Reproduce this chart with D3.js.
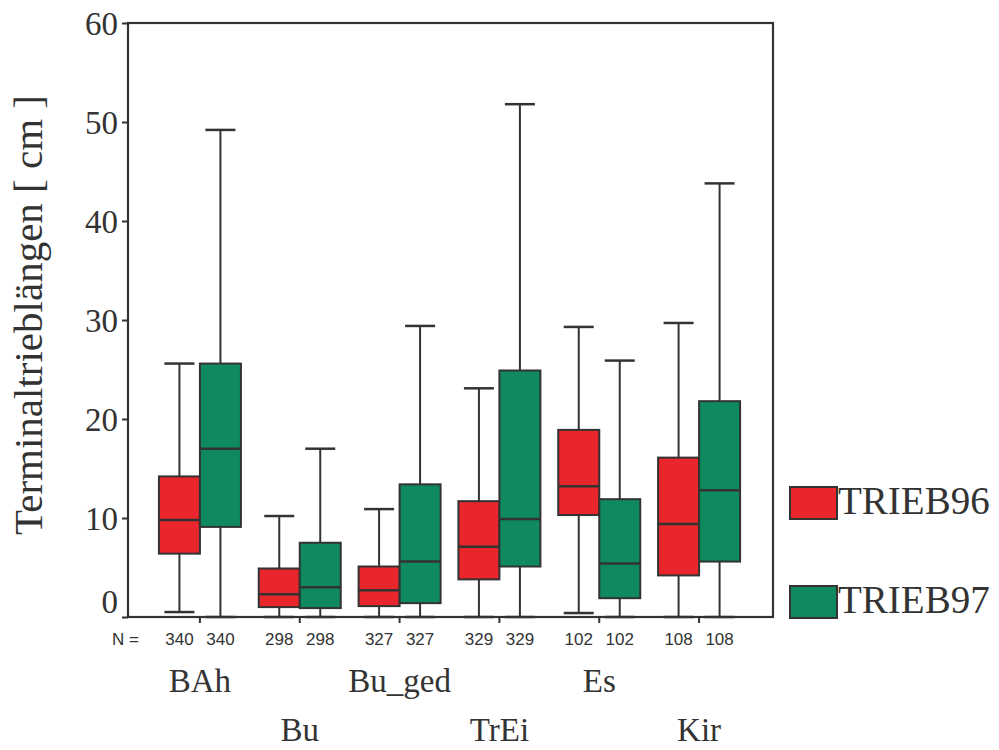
<!DOCTYPE html>
<html>
<head>
<meta charset="utf-8">
<script src="https://cdn.jsdelivr.net/npm/d3@7"></script>
<style>
  html, body { margin: 0; padding: 0; background: #ffffff; }
  svg { display: block; }
</style>
</head>
<body>
<svg id="chart" width="999" height="750"></svg>
<script>
// Terminal shoot lengths per tree species, 1996 vs 1997
const categories = ["BAh", "Bu", "Bu_ged", "TrEi", "Es", "Kir"];
const seriesNames = ["TRIEB96", "TRIEB97"];
const seriesColors = ["#e8262c", "#0e8a5e"];

const counts96 = [340, 298, 327, 329, 102, 108];
const counts97 = [340, 298, 327, 329, 102, 108];

// five-number summaries: lower whisker, Q1, median, Q3, upper whisker
const low96    = [0.5, 0, 0, 0, 0.4, 0];
const q1_96    = [6.4, 1.0, 1.1, 3.8, 10.3, 4.2];
const median96 = [9.8, 2.3, 2.7, 7.1, 13.2, 9.4];
const q3_96    = [14.2, 4.9, 5.1, 11.7, 18.9, 16.1];
const high96   = [25.6, 10.2, 10.9, 23.1, 29.3, 29.7];

const low97    = [0, 0, 0, 0, 0, 0];
const q1_97    = [9.1, 0.9, 1.4, 5.1, 1.9, 5.6];
const median97 = [17.0, 3.0, 5.6, 9.9, 5.4, 12.8];
const q3_97    = [25.6, 7.5, 13.4, 24.9, 11.9, 21.8];
const high97   = [49.2, 17.0, 29.4, 51.8, 25.9, 43.8];

const yTicks = [0, 10, 20, 30, 40, 50, 60];

const seriesData = [
  { name: seriesNames[0], color: seriesColors[0], n: counts96, low: low96, q1: q1_96, med: median96, q3: q3_96, high: high96 },
  { name: seriesNames[1], color: seriesColors[1], n: counts97, low: low97, q1: q1_97, med: median97, q3: q3_97, high: high97 }
];

const boxes = [];
categories.forEach((c, i) => {
  seriesData.forEach(s => {
    boxes.push({ cat: c, idx: i, series: s.name, color: s.color, n: s.n[i],
      low: s.low[i], q1: s.q1[i], med: s.med[i], q3: s.q3[i], high: s.high[i] });
  });
});

const svg = d3.select("#chart");
const serif = "'Liberation Serif', 'Times New Roman', serif";
const sans = "'Liberation Sans', Arial, sans-serif";
const ink = "#333333";

const plot = { left: 128, right: 773, top: 23, bottom: 617 };

const y = d3.scaleLinear().domain([0, 60]).range([plot.bottom, plot.top]);
const x = d3.scaleBand().domain(categories).range([150, 749]).padding(0);
const xs = d3.scaleBand().domain(seriesNames).range([-41, 41]).padding(0);
const cx = d => x(d.cat) + x.bandwidth() / 2;
const bx = d => cx(d) + xs(d.series);
const bw = xs.bandwidth();
const capHalf = 15;

// frame
svg.append("rect")
  .attr("x", plot.left).attr("y", plot.top)
  .attr("width", plot.right - plot.left).attr("height", plot.bottom - plot.top)
  .attr("fill", "none").attr("stroke", ink).attr("stroke-width", 2.2);

// y axis
const yAxis = svg.append("g")
  .attr("transform", `translate(${plot.left},0)`)
  .call(d3.axisLeft(y).tickValues(yTicks).tickSize(6).tickPadding(4).tickFormat(d3.format("d")));
yAxis.select(".domain").remove();
yAxis.selectAll(".tick line").attr("stroke", ink).attr("stroke-width", 2);
yAxis.selectAll(".tick text")
  .attr("fill", "#333")
  .style("font-family", serif)
  .style("font-size", "33px")
  .attr("dy", d => d === 0 ? "-0.15em" : "0.34em");

// x axis ticks at category centres
const xAxis = svg.append("g")
  .attr("transform", `translate(0,${plot.bottom})`)
  .call(d3.axisBottom(x).tickSize(6).tickFormat(""));
xAxis.select(".domain").remove();
xAxis.selectAll(".tick line").attr("stroke", ink).attr("stroke-width", 2);

// y axis title
svg.append("text")
  .attr("transform", "translate(42,315) rotate(-90)")
  .attr("text-anchor", "middle")
  .attr("fill", "#333")
  .style("font-family", serif)
  .style("font-size", "41px")
  .text("Terminaltrieblängen [ cm ]");

// whiskers
const g = svg.append("g");
g.selectAll("line.whisker-low").data(boxes).join("line")
  .attr("class", "whisker-low")
  .attr("x1", d => bx(d) + bw / 2).attr("x2", d => bx(d) + bw / 2)
  .attr("y1", d => y(d.q1)).attr("y2", d => y(d.low))
  .attr("stroke", ink).attr("stroke-width", 2);
g.selectAll("line.whisker-high").data(boxes).join("line")
  .attr("class", "whisker-high")
  .attr("x1", d => bx(d) + bw / 2).attr("x2", d => bx(d) + bw / 2)
  .attr("y1", d => y(d.q3)).attr("y2", d => y(d.high))
  .attr("stroke", ink).attr("stroke-width", 2);
g.selectAll("line.cap-low").data(boxes).join("line")
  .attr("class", "cap-low")
  .attr("x1", d => bx(d) + bw / 2 - capHalf).attr("x2", d => bx(d) + bw / 2 + capHalf)
  .attr("y1", d => y(d.low)).attr("y2", d => y(d.low))
  .attr("stroke", ink).attr("stroke-width", 2.5);
g.selectAll("line.cap-high").data(boxes).join("line")
  .attr("class", "cap-high")
  .attr("x1", d => bx(d) + bw / 2 - capHalf).attr("x2", d => bx(d) + bw / 2 + capHalf)
  .attr("y1", d => y(d.high)).attr("y2", d => y(d.high))
  .attr("stroke", ink).attr("stroke-width", 2.5);

// boxes
g.selectAll("rect.box").data(boxes).join("rect")
  .attr("class", "box")
  .attr("x", d => bx(d)).attr("width", bw)
  .attr("y", d => y(d.q3)).attr("height", d => y(d.q1) - y(d.q3))
  .attr("fill", d => d.color)
  .attr("stroke", ink).attr("stroke-width", 2);

// medians
g.selectAll("line.median").data(boxes).join("line")
  .attr("class", "median")
  .attr("x1", d => bx(d)).attr("x2", d => bx(d) + bw)
  .attr("y1", d => y(d.med)).attr("y2", d => y(d.med))
  .attr("stroke", ink).attr("stroke-width", 2.5);

// case counts
svg.append("text")
  .attr("x", 112).attr("y", 645)
  .attr("fill", "#333")
  .style("font-family", sans).style("font-size", "17px")
  .text("N =");
svg.selectAll("text.count").data(boxes).join("text")
  .attr("class", "count")
  .attr("x", d => bx(d) + bw / 2).attr("y", 645)
  .attr("text-anchor", "middle")
  .attr("fill", "#333")
  .style("font-family", sans).style("font-size", "17px")
  .text(d => d.n);

// category labels, staggered over two rows
svg.selectAll("text.cat").data(categories).join("text")
  .attr("class", "cat")
  .attr("x", d => x(d) + x.bandwidth() / 2)
  .attr("y", (d, i) => i % 2 === 0 ? 692 : 741)
  .attr("text-anchor", "middle")
  .attr("fill", "#333")
  .style("font-family", serif).style("font-size", "33px")
  .text(d => d);

// legend
const legend = svg.append("g");
const legendY = [487, 586];
seriesNames.forEach((name, i) => {
  legend.append("rect")
    .attr("x", 790).attr("y", legendY[i])
    .attr("width", 47).attr("height", 32)
    .attr("fill", seriesColors[i])
    .attr("stroke", ink).attr("stroke-width", 2);
  legend.append("text")
    .attr("x", 838).attr("y", legendY[i] + 27)
    .attr("fill", "#333")
    .style("font-family", serif).style("font-size", "39px")
    .text(name);
});
</script>
</body>
</html>
